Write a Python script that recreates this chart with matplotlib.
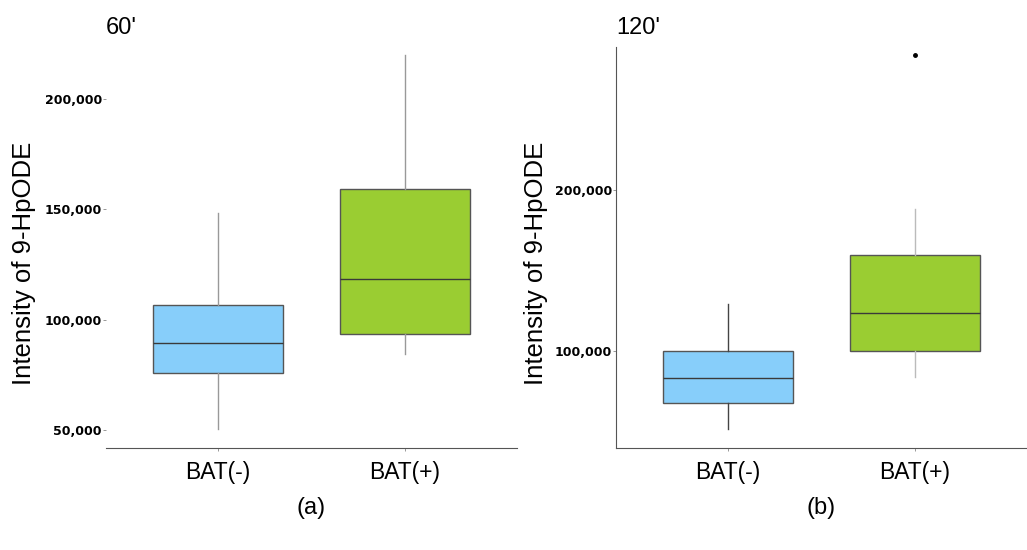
import numpy as np
import matplotlib.pyplot as plt
from matplotlib.ticker import FuncFormatter

# 박스플롯 통계값
groups = ["BAT(-)", "BAT(+)"]

# 60'
q1_60 = [75900, 93600]
med_60 = [89500, 118200]
q3_60 = [106800, 159100]
wlo_60 = [50500, 84500]
whi_60 = [148200, 220000]
fl_60 = [[], []]

# 120'
q1_120 = [67700, 100000]
med_120 = [83200, 123600]
q3_120 = [100000, 159600]
wlo_120 = [51600, 83900]
whi_120 = [129200, 188200]
fl_120 = [[], [283900]]

box_colors = ["#87CEFA", "#9ACD32"]

plt.rcParams["font.family"] = ["Liberation Sans", "DejaVu Sans"]


def make_stats(q1, med, q3, wlo, whi, fl):
    stats = []
    for i in range(len(q1)):
        stats.append({"q1": q1[i], "med": med[i], "q3": q3[i],
                      "whislo": wlo[i], "whishi": whi[i], "fliers": fl[i]})
    return stats


def draw_panel(ax, stats, whisker_colors, ylim, yticks, title, sub, left_spine, label_x):
    bp = ax.bxp(stats, positions=[1, 2], widths=0.7, patch_artist=True,
                showcaps=False, showfliers=True,
                medianprops=dict(color="#3a3a3a", linewidth=1.0),
                boxprops=dict(edgecolor="#555555", linewidth=1.0),
                flierprops=dict(marker="o", markersize=2.5, markerfacecolor="black",
                                markeredgecolor="black"))
    for patch, c in zip(bp["boxes"], box_colors):
        patch.set_facecolor(c)
    for i, wc in enumerate(whisker_colors):
        for w in bp["whiskers"][2 * i:2 * i + 2]:
            w.set_color(wc)
            w.set_linewidth(1.0)

    ax.set_xlim(0.4, 2.6)
    ax.set_ylim(*ylim)
    ax.set_yticks(yticks)
    ax.yaxis.set_major_formatter(FuncFormatter(lambda v, p: f"{int(v):,}"))
    ax.set_xticks([1, 2])
    ax.set_xticklabels(groups, fontsize=16.5)
    for lab in ax.get_yticklabels():
        lab.set_fontfamily("DejaVu Sans")
        lab.set_fontweight("bold")
        lab.set_fontsize(9)
    ax.tick_params(axis="y", length=2, width=0.6, color="#888888", pad=1)
    ax.tick_params(axis="x", length=2, width=0.6, color="#888888", pad=7)

    for s in ["top", "right"]:
        ax.spines[s].set_visible(False)
    ax.spines["left"].set_visible(left_spine)
    ax.spines["left"].set_color("#555555")
    ax.spines["bottom"].set_color("#555555")

    ax.set_ylabel("Intensity of 9-HpODE", fontsize=18.5)
    ax.yaxis.set_label_coords(label_x, 0.46)
    ax.set_xlabel(sub, fontsize=17, labelpad=10)
    ax.text(0.0, 1.02, title, transform=ax.transAxes, fontsize=17,
            ha="left", va="bottom")


fig = plt.figure(figsize=(10.27, 5.5), dpi=100)
ax1 = fig.add_axes([106 / 1027, 102 / 550, 411 / 1027, 401 / 550])
ax2 = fig.add_axes([616 / 1027, 102 / 550, 411 / 1027, 401 / 550])

draw_panel(ax1, make_stats(q1_60, med_60, q3_60, wlo_60, whi_60, fl_60),
           ["#999999", "#999999"], (41800, 223600),
           [50000, 100000, 150000, 200000], "60'", "(a)", False, -0.17)
draw_panel(ax2, make_stats(q1_120, med_120, q3_120, wlo_120, whi_120, fl_120),
           ["#444444", "#bbbbbb"], (39750, 288800),
           [100000, 200000], "120'", "(b)", True, -0.165)

fig.savefig("out.png", dpi=100)
